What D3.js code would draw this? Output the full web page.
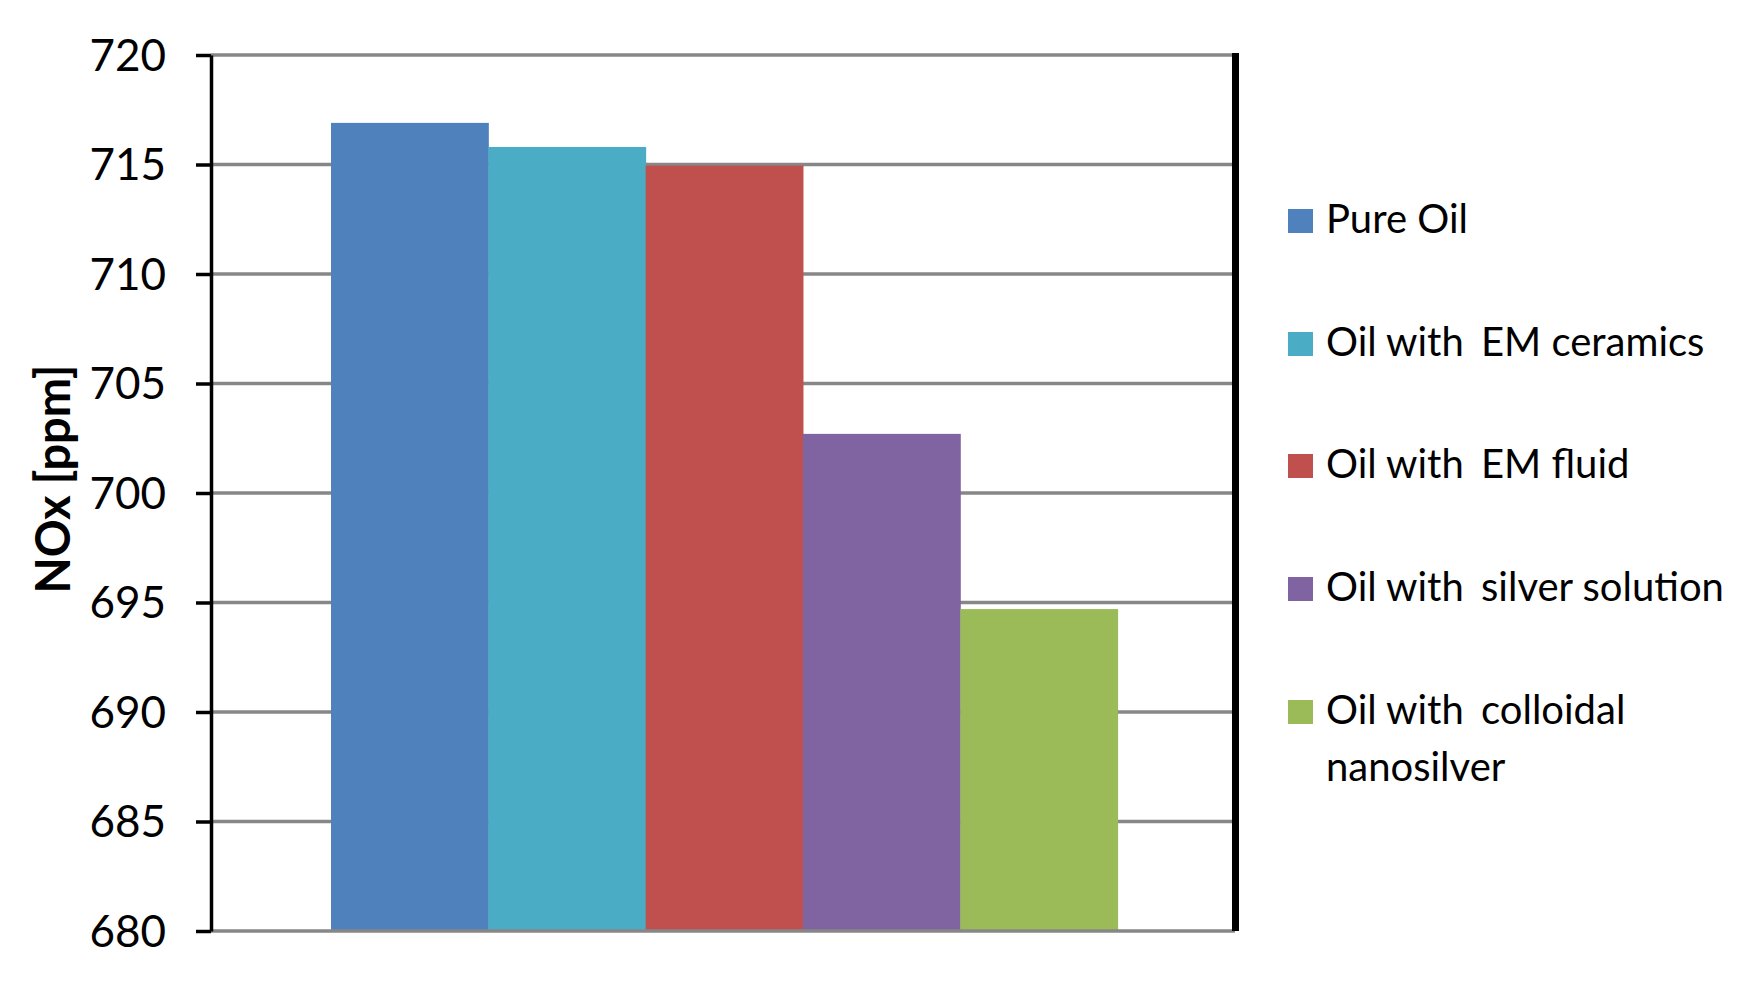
<!DOCTYPE html>
<html>
<head>
<meta charset="utf-8">
<script src="https://cdn.jsdelivr.net/npm/d3@7"></script>
<style>
	body { margin: 0; background: #fff; }
	svg text { font-family: Lato, "Open Sans", sans-serif; fill: #000; }
</style>
</head>
<body>
<div id="vis"></div>
<script>
const WIDTH = 1752;
const HEIGHT = 992;

// data
const series = [
	'Pure Oil',
	'Oil with EM ceramics',
	'Oil with EM fluid',
	'Oil with silver solution',
	'Oil with colloidal nanosilver'
]
const noxValues = [716.9, 715.8, 714.95, 702.7, 694.7]
const yTicks = [680, 685, 690, 695, 700, 705, 710, 715, 720]
const seriesColors = ['#4f81bd', '#4bacc6', '#c0504d', '#8064a2', '#9bbb59']
// legend lines (long names are wrapped like in the original)
const legendLines = [
	['Pure Oil'],
	['Oil with EM ceramics'],
	['Oil with EM fluid'],
	['Oil with silver solution'],
	['Oil with colloidal', 'nanosilver']
]

const plot = { left: 211, right: 1232, top: 55, bottom: 931 }

let svg = d3.select('#vis')
	.append('svg')
	.attr('width', WIDTH)
	.attr('height', HEIGHT)

let y = d3.scaleLinear()
	.domain([680, 720])
	.range([plot.bottom, plot.top])

// one category, five series side by side
let x0 = d3.scaleBand()
	.domain(['NOx'])
	.range([plot.left, plot.right])
	.paddingOuter(0.149)
	.align(0.512)
let x1 = d3.scaleBand()
	.domain(series)
	.range([0, x0.bandwidth()])

let color = d3.scaleOrdinal(series, seriesColors)

// gridlines
svg.append('g')
	.attr('class', 'grid')
	.selectAll('line')
	.data(yTicks.filter(d => d !== 680))
	.enter()
	.append('line')
	.attr('x1', plot.left)
	.attr('x2', plot.right + 3)
	.attr('y1', d => y(d))
	.attr('y2', d => y(d))
	.attr('stroke', '#878787')
	.attr('stroke-width', 3.5)

// bars
svg.append('g')
	.selectAll('rect')
	.data(series)
	.enter()
	.append('rect')
	.attr('x', d => x0('NOx') + x1(d))
	.attr('width', x1.bandwidth() + 0.5)
	.attr('y', (d, i) => y(noxValues[i]))
	.attr('height', (d, i) => y(680) - y(noxValues[i]))
	.attr('fill', d => color(d))

// bottom line
svg.append('line')
	.attr('x1', plot.left)
	.attr('x2', plot.right + 3)
	.attr('y1', y(680))
	.attr('y2', y(680))
	.attr('stroke', '#878787')
	.attr('stroke-width', 3.5)

// right border
svg.append('line')
	.attr('x1', plot.right + 3.5)
	.attr('x2', plot.right + 3.5)
	.attr('y1', plot.top - 2)
	.attr('y2', plot.bottom)
	.attr('stroke', '#000')
	.attr('stroke-width', 7)

// y axis
let yAxis = d3.axisLeft(y)
	.tickValues(yTicks)
	.tickSize(15)
	.tickSizeOuter(0)
	.tickPadding(30)

svg.append('g')
	.attr('class', 'y-axis')
	.attr('transform', `translate(${plot.left}, 0)`)
	.call(yAxis)
	.call(g => g.select('.domain')
		.attr('stroke', '#000')
		.attr('stroke-width', 3.5))
	.call(g => g.selectAll('.tick line')
		.attr('stroke', '#000')
		.attr('stroke-width', 3.5))
	.call(g => g.selectAll('.tick text')
		.style('font-size', '44px')
		.attr('dy', '0.35em'))

// axis title
svg.append('text')
	.attr('transform', 'translate(70, 479) rotate(-90)')
	.attr('text-anchor', 'middle')
	.style('font-size', '47px')
	.style('font-weight', 700)
	.text('NOx [ppm]')

// legend
const legendBaselines = [233, 356, 478, 601, 724]
let legend = svg.append('g')
	.attr('class', 'legend')

legend.selectAll('rect')
	.data(series)
	.enter()
	.append('rect')
	.attr('x', 1288)
	.attr('y', (d, i) => legendBaselines[i] - 24)
	.attr('width', 25)
	.attr('height', 24)
	.attr('fill', d => color(d))

legend.selectAll('text')
	.data(legendLines)
	.enter()
	.append('text')
	.attr('x', 1326)
	.attr('y', (d, i) => legendBaselines[i])
	.style('font-size', '40px')
	.each(function (lines) {
		let t = d3.select(this)
		lines.forEach((l, j) => {
			let first = t.append('tspan')
				.attr('x', 1326)
				.attr('dy', j === 0 ? 0 : 57)
			// the original has a slightly wider gap after "with"
			if (l.startsWith('Oil with ')) {
				first.text('Oil with')
				t.append('tspan').attr('dx', 7).text(l.slice(8))
			} else {
				first.text(l)
			}
		})
	})
</script>
</body>
</html>
